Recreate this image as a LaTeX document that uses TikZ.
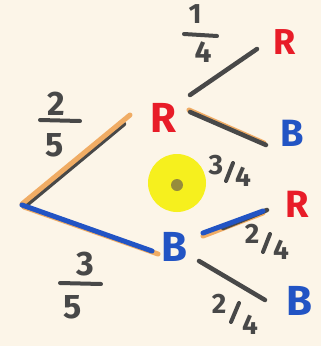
\documentclass[tikz,border=0pt]{standalone}
\usepackage{fontspec}
\setmainfont{Fira Sans}
\definecolor{bgcream}{RGB}{252,245,232}
\definecolor{penred}{RGB}{232,28,40}
\definecolor{penblue}{RGB}{34,84,196}
\definecolor{pengray}{RGB}{72,72,72}
\definecolor{penorange}{RGB}{240,172,100}
\definecolor{penyellow}{RGB}{246,240,30}
\definecolor{penolive}{RGB}{150,140,60}
\begin{document}
\begin{tikzpicture}[x=1pt,y=-1pt,
  letter/.style={inner sep=0pt,font=\bfseries\fontsize{42}{42}\selectfont},
  digit/.style={inner sep=0pt,text=pengray,font=\bfseries\fontsize{34}{34}\selectfont},
  smalldigit/.style={inner sep=0pt,text=pengray,font=\bfseries\fontsize{28}{28}\selectfont},
  grayline/.style={draw=pengray,line width=4.5pt,line cap=round},
  orangeline/.style={draw=penorange,line width=5pt,line cap=round},
  blueline/.style={draw=penblue,line width=5pt,line cap=round},
  fracbar/.style={draw=pengray,line width=4pt,line cap=round},
  slash/.style={draw=pengray,line width=4pt,line cap=round}]
\useasboundingbox[fill=bgcream] (0,0) rectangle (321,346);
% highlight
\fill[penyellow] (177,183) circle (29);
\fill[penolive] (177,185) circle (6);
% nodes
\coordinate (root) at (22,205);
\node[letter,text=penred] (R1) at (163,118) {R};
\node[letter,text=penblue] (B1) at (174,247) {B};
\node[letter,text=penred,font=\bfseries\fontsize{36}{36}\selectfont] (R2) at (285,42) {R};
\node[letter,text=penblue,font=\bfseries\fontsize{38}{38}\selectfont] (B2) at (292,133) {B};
\node[letter,text=penred,font=\bfseries\fontsize{38}{38}\selectfont] (R3) at (297,204) {R};
\node[letter,text=penblue] (B3) at (299,301) {B};
% edge end points
\coordinate (e1) at (130,115);
\coordinate (e2) at (155,252);
\coordinate (a1) at (190,95);
\coordinate (a2) at (257,49);
\coordinate (b1) at (190,112);
\coordinate (b2) at (266,145);
\coordinate (c1) at (203,233);
\coordinate (c2) at (267,210);
\coordinate (d1) at (199,261);
\coordinate (d2) at (265,300);
% root -> R1
\draw[grayline] ([shift={(2,2)}]root) -- ([shift={(-6,9)}]e1);
\draw[orangeline] ([shift={(0,-1)}]root) -- (e1);
% root -> B1
\draw[orangeline] ([shift={(2,2)}]root) -- ([shift={(3,2)}]e2);
\draw[blueline] (root) -- ([shift={(-3,-1)}]e2);
% R1 -> R2
\draw[grayline] (a1) -- (a2);
% R1 -> B2
\draw[orangeline] ([shift={(-1,-2)}]b1) -- ([shift={(-2,-2)}]b2);
\draw[grayline] (b1) -- (b2);
% B1 -> R3
\draw[orangeline] ([shift={(0,3)}]c1) -- ([shift={(-4,3)}]c2);
\draw[grayline] ([shift={(20,-5)}]c1) -- (c2);
\draw[blueline] (c1) -- ([shift={(-4,1)}]c2);
% B1 -> B3
\draw[grayline] (d1) -- (d2);
% stacked fraction labels
\node[digit] (n25) at (56,104) {2};
\draw[fracbar] (40,120) -- (80,121);
\node[digit] (d25) at (55,145) {5};
\node[digit] (n35) at (85,264) {3};
\draw[fracbar] (60,283) -- (101,284);
\node[digit] (d35) at (73,307) {5};
\node[digit,font=\bfseries\fontsize{28}{28}\selectfont] (n14) at (195,14) {1};
\draw[fracbar] (184,34) -- (217,36);
\node[digit,font=\bfseries\fontsize{30}{30}\selectfont] (d14) at (203,52) {4};
% slanted fraction labels
\node[smalldigit] (n34) at (216,165) {3};
\draw[slash] (233,163) -- (226,181);
\node[smalldigit] (d34) at (243,177) {4};
\node[smalldigit] (n24a) at (252,234) {2};
\draw[slash] (270,234) -- (263,252);
\node[smalldigit] (d24a) at (281,250) {4};
\node[smalldigit] (n24b) at (219,304) {2};
\draw[slash] (239,303) -- (231,322);
\node[smalldigit] (d24b) at (250,325) {4};
\end{tikzpicture}
\end{document}
